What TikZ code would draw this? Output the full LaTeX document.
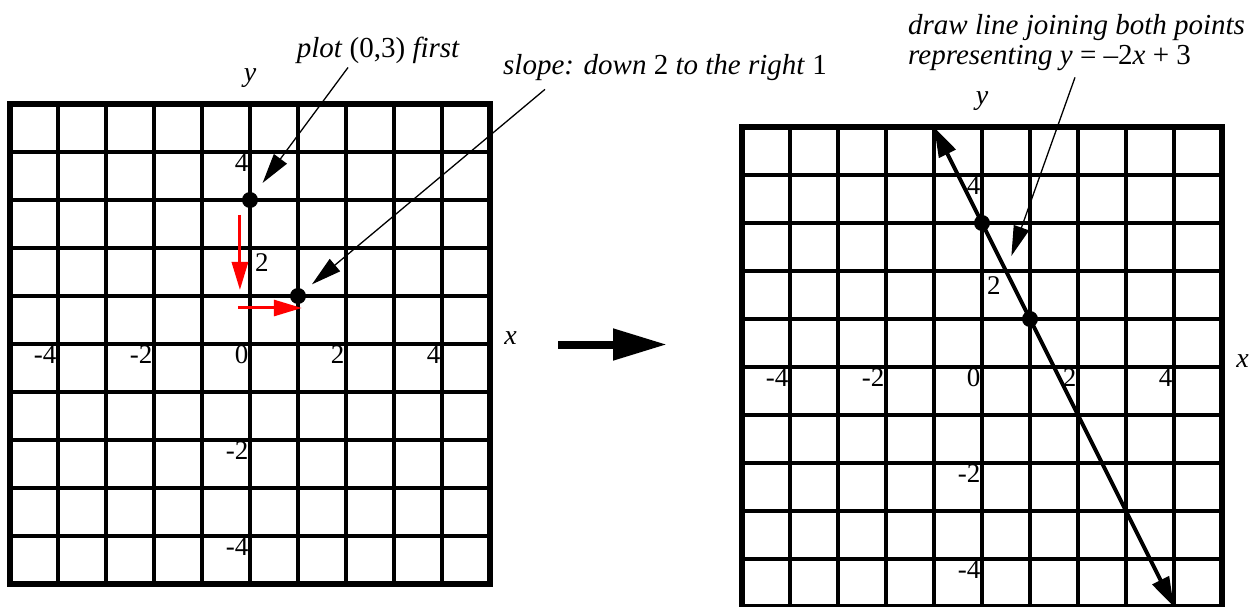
\documentclass[tikz,border=0pt]{standalone}
\usepackage{fontspec}
\setmainfont{Liberation Serif}
\usetikzlibrary{arrows.meta, calc}

\tikzset{
  leftgraph/.style={shift={(250pt,262pt)}, x=48pt, y=48pt},
  rightgraph/.style={shift={(982pt,239pt)}, x=48pt, y=48pt},
  gridline/.style={line width=3.6pt},
  gridframe/.style={line width=5.5pt},
  ticklbl/.style={inner sep=1.5pt, font=\fontsize{27}{30}\selectfont},
  axislbl/.style={font=\fontsize{28}{30}\selectfont\itshape},
  notelbl/.style={inner sep=0pt, font=\fontsize{29}{30}\selectfont\itshape},
  marker/.style={circle, fill=black, inner sep=0pt, minimum size=16pt},
  annot/.style={line width=1.3pt, -{Triangle[length=30pt,width=16pt]}},
  redstep/.style={red, line width=3pt, -{Triangle[length=28pt,width=16pt]}},
  fitline/.style={line width=4pt, {Triangle[length=30pt,width=18pt]}-{Triangle[length=30pt,width=18pt]}},
  bigarrow/.style={line width=8pt, -{Triangle[length=54pt,width=30pt]}}
}

\begin{document}
\begin{tikzpicture}[x=1pt, y=1pt]
\useasboundingbox (0,0) rectangle (1253,606);

% Both sheets of graph paper
\foreach \g in {left,right} {
  \begin{scope}[\g graph]
    \foreach \i in {-4,...,4} {
      \draw[gridline] (\i,-5) -- (\i,5);
      \draw[gridline] (-5,\i) -- (5,\i);
    }
    \draw[gridframe] (-5,-5) rectangle (5,5);
    % tick labels
    \foreach \i [count=\k] in {-4,-2,0,2,4}
      \node[ticklbl, anchor=north east] (\g x\k) at (\i,0) {\i};
    \node[ticklbl, anchor=north east] (\g y1) at (0,4) {4};
    \node[ticklbl, anchor=north west, inner sep=5pt] (\g y2) at (0,2) {2};
    \node[ticklbl, anchor=north east] (\g y3) at (0,-2) {-2};
    \node[ticklbl, anchor=north east] (\g y4) at (0,-4) {-4};
    % axes names
    \node[axislbl] (\g ynm) at (0,5.55) {y};
    \node[axislbl] (\g xnm) at (5.43,0.12) {x};
  \end{scope}
}

% Left: plot the point, then step along the slope
\begin{scope}[leftgraph]
  \coordinate (dtop) at (-0.21,2.69);
  \coordinate (dbot) at (-0.21,1.125);
  \coordinate (rbeg) at (-0.25,0.75);
  \coordinate (rend) at (1.08,0.75);
  \draw[redstep] (dtop) -- (dbot);
  \draw[redstep] (rbeg) -- (rend);
  \node[marker] (lp) at (0,3) {};
  \node[marker] (lq) at (1,1) {};
\end{scope}

% Right: line through both points
\begin{scope}[rightgraph]
  \coordinate (ltop) at (-1,5);
  \coordinate (lbot) at (4,-5);
  \draw[fitline] (ltop) -- (lbot);
  \node[marker] (rp) at (0,3) {};
  \node[marker] (rq) at (1,1) {};
  \coordinate (rmid) at ($(rp)!0.5!(rq)$);
\end{scope}

% Notes
\node[notelbl] (plotlbl) at (378,556) {plot \textup{(0,3)} first};
\node[notelbl] (slopelbl) at (665,538) {slope: down \textup{2} to the right \textup{1}};
\node[notelbl, anchor=west, align=left] (linelbl) at (908,563)
  {draw line joining both points\\representing y \textup{= –2}x \textup{+ 3}};

\draw[annot, shorten >=13pt] ([xshift=-30pt, yshift=-4pt]plotlbl.south) -- (lp);
\draw[annot, shorten >=10pt] ([xshift=42pt, yshift=-8pt]slopelbl.south west) -- (lq);
\draw[annot, shorten >=16pt] ([xshift=167pt, yshift=-6pt]linelbl.south west) -- (rmid);

% From one graph to the other
\coordinate (gofrom) at (558,261.5);
\coordinate (goto) at (667,261.5);
\draw[bigarrow] (gofrom) -- (goto);

\end{tikzpicture}
\end{document}
